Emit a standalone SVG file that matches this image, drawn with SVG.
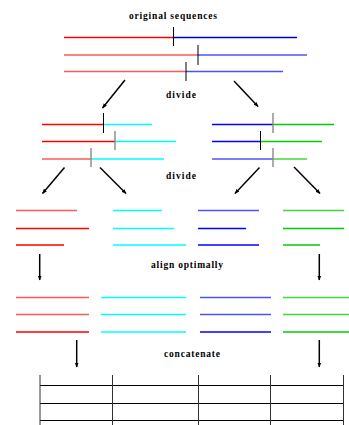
<svg xmlns="http://www.w3.org/2000/svg" width="349" height="425" viewBox="0 0 349 425">
  <defs>
    <marker id="head" viewBox="0 0 10 10" refX="9" refY="5" markerWidth="5" markerHeight="5" orient="auto" markerUnits="userSpaceOnUse">
      <path d="M0,1 L10,5 L0,9 Z" fill="#000"/>
    </marker>
    <style>
      .lbl { font-family: "Liberation Serif", "DejaVu Serif", serif; font-weight: bold; font-size: 9.5px; fill: #000; text-anchor: middle; }
      .seg { stroke-width: 1.4; fill: none; }
      .r { stroke: #ff0000; }
      .rl { stroke: #ff5a5a; }
      .c { stroke: #00ffff; }
      .b { stroke: #0000ff; }
      .bl { stroke: #5050ff; }
      .bd { stroke: #0000c8; }
      .g { stroke: #00cc00; }
      .gl { stroke: #40d840; }
      .tick { stroke: #000; stroke-width: 1; }
      .tickg { stroke: #888; stroke-width: 1.4; }
      .arrow { stroke: #000; stroke-width: 1.5; fill: none; marker-end: url(#head); }
      .grid { stroke: #000; stroke-width: 1.2; }
      .gridv { stroke: #333; stroke-width: 1; }
    </style>
  </defs>

  <!-- step labels -->
  <g id="labels">
    <text class="lbl" x="173" y="19" textLength="88">original sequences</text>
    <text class="lbl" x="181" y="97.5" textLength="30">divide</text>
    <text class="lbl" x="181" y="179" textLength="30">divide</text>
    <text class="lbl" x="187" y="268" textLength="72">align optimally</text>
    <text class="lbl" x="192" y="357" textLength="56">concatenate</text>
  </g>

  <!-- three input sequences with their split points -->
  <g id="original">
    <line class="seg r" x1="64" y1="37.5" x2="173" y2="37.5"/>
    <line class="seg bd" x1="173" y1="37.5" x2="297" y2="37.5"/>
    <line class="tick" x1="173.5" y1="27" x2="173.5" y2="46"/>
    <line class="seg rl" x1="64" y1="55" x2="198" y2="55"/>
    <line class="seg bl" x1="198" y1="55" x2="307" y2="55"/>
    <line class="tick" x1="198" y1="45" x2="198" y2="65"/>
    <line class="seg rl" x1="64" y1="71.5" x2="186" y2="71.5"/>
    <line class="seg bl" x1="186" y1="71.5" x2="283" y2="71.5"/>
    <line class="tick" x1="186" y1="62" x2="186" y2="81"/>
  </g>

  <!-- first division: left halves -->
  <g id="left-half">
    <line class="seg r" x1="42" y1="124.5" x2="103.5" y2="124.5"/>
    <line class="seg c" x1="103.5" y1="124.5" x2="152" y2="124.5"/>
    <line class="tick" x1="103.5" y1="113" x2="103.5" y2="133"/>
    <line class="seg r" x1="42" y1="141.5" x2="115" y2="141.5"/>
    <line class="seg c" x1="115" y1="141.5" x2="176" y2="141.5"/>
    <line class="tickg" x1="115" y1="131" x2="115" y2="150"/>
    <line class="seg rl" x1="42" y1="159" x2="91" y2="159"/>
    <line class="seg c" x1="91" y1="159" x2="164" y2="159"/>
    <line class="tickg" x1="91" y1="148" x2="91" y2="167"/>
  </g>

  <!-- first division: right halves -->
  <g id="right-half">
    <line class="seg b" x1="212" y1="124.5" x2="273" y2="124.5"/>
    <line class="seg g" x1="273" y1="124.5" x2="334" y2="124.5"/>
    <line class="tickg" x1="273" y1="113" x2="273" y2="133"/>
    <line class="seg b" x1="212" y1="141.5" x2="260.5" y2="141.5"/>
    <line class="seg g" x1="260.5" y1="141.5" x2="322" y2="141.5"/>
    <line class="tick" x1="260.5" y1="131" x2="260.5" y2="150"/>
    <line class="seg bl" x1="212" y1="159" x2="273" y2="159"/>
    <line class="seg gl" x1="273" y1="159" x2="307" y2="159"/>
    <line class="tickg" x1="273" y1="148" x2="273" y2="167"/>
  </g>

  <!-- second division: four blocks -->
  <g id="blocks-divided">
    <line class="seg rl" x1="16" y1="210.5" x2="77" y2="210.5"/>
    <line class="seg r" x1="16" y1="228.5" x2="89" y2="228.5"/>
    <line class="seg r" x1="16" y1="245" x2="64" y2="245"/>
    <line class="seg c" x1="113" y1="210.5" x2="162" y2="210.5"/>
    <line class="seg c" x1="113" y1="228.5" x2="174" y2="228.5"/>
    <line class="seg c" x1="113" y1="245" x2="186" y2="245"/>
    <line class="seg bl" x1="198" y1="210.5" x2="259" y2="210.5"/>
    <line class="seg b" x1="198" y1="228.5" x2="246" y2="228.5"/>
    <line class="seg b" x1="198" y1="245" x2="259" y2="245"/>
    <line class="seg gl" x1="283" y1="210.5" x2="344" y2="210.5"/>
    <line class="seg g" x1="283" y1="228.5" x2="344" y2="228.5"/>
    <line class="seg g" x1="283" y1="245" x2="320" y2="245"/>
  </g>

  <!-- aligned blocks -->
  <g id="blocks-aligned">
    <line class="seg rl" x1="16" y1="297.5" x2="89" y2="297.5"/>
    <line class="seg rl" x1="16" y1="314.5" x2="89" y2="314.5"/>
    <line class="seg r" x1="16" y1="332" x2="89" y2="332"/>
    <line class="seg c" x1="101" y1="297.5" x2="186" y2="297.5"/>
    <line class="seg c" x1="101" y1="314.5" x2="186" y2="314.5"/>
    <line class="seg c" x1="101" y1="332" x2="186" y2="332"/>
    <line class="seg bl" x1="200" y1="297.5" x2="271" y2="297.5"/>
    <line class="seg bl" x1="200" y1="314.5" x2="271" y2="314.5"/>
    <line class="seg b" x1="200" y1="332" x2="271" y2="332"/>
    <line class="seg gl" x1="283" y1="297.5" x2="349" y2="297.5"/>
    <line class="seg gl" x1="283" y1="314.5" x2="349" y2="314.5"/>
    <line class="seg g" x1="283" y1="332" x2="349" y2="332"/>
  </g>

  <!-- concatenated result -->
  <g id="result">
    <line class="grid" x1="40" y1="385.5" x2="343" y2="385.5"/>
    <line class="grid" x1="40" y1="403.5" x2="343" y2="403.5"/>
    <line class="grid" x1="40" y1="420.5" x2="343" y2="420.5"/>
    <line class="gridv" x1="40" y1="375" x2="40" y2="425"/>
    <line class="gridv" x1="112.5" y1="375" x2="112.5" y2="425"/>
    <line class="gridv" x1="198.5" y1="375" x2="198.5" y2="425"/>
    <line class="gridv" x1="270.5" y1="375" x2="270.5" y2="425"/>
    <line class="gridv" x1="343.5" y1="375" x2="343.5" y2="425"/>
  </g>

  <!-- connectors -->
  <g id="connectors">
    <line class="arrow" x1="125" y1="80" x2="102.5" y2="108"/>
    <line class="arrow" x1="234" y1="81" x2="258" y2="106.5"/>
    <line class="arrow" x1="64.5" y1="167.5" x2="42.5" y2="193.5"/>
    <line class="arrow" x1="100" y1="167.5" x2="126" y2="193.5"/>
    <line class="arrow" x1="259.5" y1="167.5" x2="235" y2="193.5"/>
    <line class="arrow" x1="294" y1="167" x2="320" y2="193.5"/>
    <line class="arrow" x1="39.7" y1="254" x2="39.7" y2="280"/>
    <line class="arrow" x1="319.3" y1="254" x2="319.3" y2="280"/>
    <line class="arrow" x1="76.7" y1="340" x2="76.7" y2="367"/>
    <line class="arrow" x1="319.3" y1="340" x2="319.3" y2="367"/>
  </g>
</svg>
